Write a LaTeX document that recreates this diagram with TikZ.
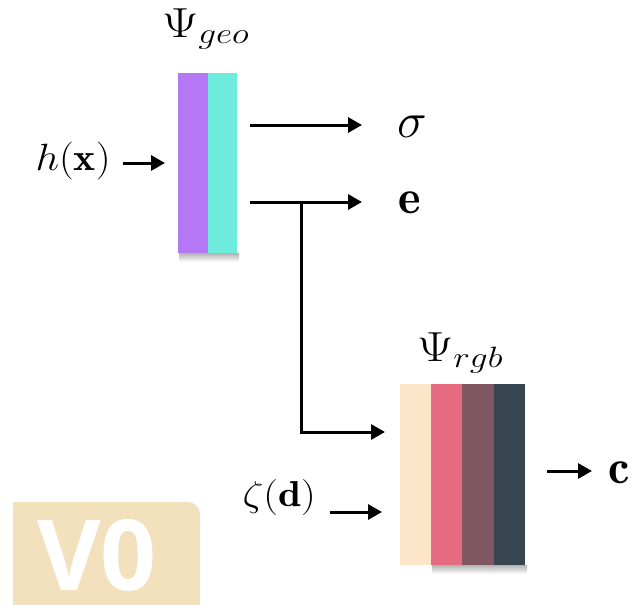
\RequirePackage{fix-cm}
\documentclass[tikz,border=0pt]{standalone}
\usepackage{fontspec}
\usepackage{graphicx}
\newfontfamily\badgefont{Open Sans}
\usetikzlibrary{arrows.meta}
\definecolor{cpurple}{HTML}{B478F5}
\definecolor{ccyan}{HTML}{6DEBDC}
\definecolor{cbeige}{HTML}{FCE5C9}
\definecolor{cpink}{HTML}{E56B81}
\definecolor{cmauve}{HTML}{7F5760}
\definecolor{cslate}{HTML}{36454F}
\definecolor{cbadge}{HTML}{F3E0BD}
\tikzset{
  stripe/.style={draw=none, inner sep=0pt, anchor=north west, minimum height=#1},
  lbl/.style={inner sep=0pt, font=\fontsize{#1}{#1}\selectfont},
  arr/.style={line width=3pt, -{Triangle[length=14pt,width=15pt]}}
}
\begin{document}
\begin{tikzpicture}[x=1pt,y=-1pt]
\useasboundingbox (0,0) rectangle (632,605);
% badge
\fill[cbadge] (13,615) -- (13,502) [rounded corners=12pt] -- (200,502) [sharp corners] -- (200,615) -- cycle;
\node[inner sep=0pt, text=white, font=\badgefont\bfseries\fontsize{98}{98}\selectfont] (vo) at (97,555) {V0};
% shadows
\shade[top color=black!30, bottom color=white] (179,253) rectangle (239,262);
\shade[top color=black!30, bottom color=white] (432,565) rectangle (527,574);
% geo block
\node[stripe=180pt, minimum width=30pt, fill=cpurple] (g1) at (178,73) {};
\node[stripe=180pt, minimum width=29pt, fill=ccyan] (g2) at (208,73) {};
% rgb block
\node[stripe=181pt, minimum width=31pt, fill=cbeige] (r1) at (400,384) {};
\node[stripe=181pt, minimum width=31pt, fill=cpink] (r2) at (431,384) {};
\node[stripe=181pt, minimum width=32pt, fill=cmauve] (r3) at (462,384) {};
\node[stripe=181pt, minimum width=31pt, fill=cslate] (r4) at (494,384) {};
% labels
\node[lbl=42, anchor=base west] (pgeo) at (162,37) {\scalebox{1.2}[1]{$\Psi_{geo}$}};
\node[lbl=42, anchor=base west] (prgb) at (417,361) {\scalebox{1.2}[1]{$\Psi_{rgb}$}};
\node[lbl=38, anchor=base east] (hx) at (111,170) {\scalebox{1.1}[1]{$h(\mathbf{x})$}};
\node[lbl=50, anchor=base west] (sig) at (397,137) {$\sigma$};
\node[lbl=48, anchor=base west] (e) at (398,213) {$\mathbf{e}$};
\node[lbl=48, anchor=base west] (c) at (608,483) {$\mathbf{c}$};
\node[lbl=36, anchor=base east] (zd) at (316,506) {\scalebox{1.15}[1]{$\zeta(\mathbf{d})$}};
% connectors
\draw[arr] ([xshift=12pt]hx.east |- 0,163) -- ([xshift=-13pt]g1.west |- 0,163);
\draw[arr] ([xshift=13pt]g2.east |- 0,125) -- ([xshift=-35pt]sig.west |- 0,125);
\draw[arr] ([xshift=13pt]g2.east |- 0,202) -- ([xshift=-36pt]e.west |- 0,202);
\coordinate (br) at (301,202);
\coordinate (in1) at ([xshift=-15pt]r1.west |- 0,432);
\draw[arr] (br) |- (in1);
\draw[arr] ([xshift=14pt]zd.east |- 0,512) -- ([xshift=-18pt]r1.west |- 0,512);
\draw[arr] ([xshift=22pt]r4.east |- 0,471) -- ([xshift=-16pt]c.west |- 0,471);
\end{tikzpicture}
\end{document}
